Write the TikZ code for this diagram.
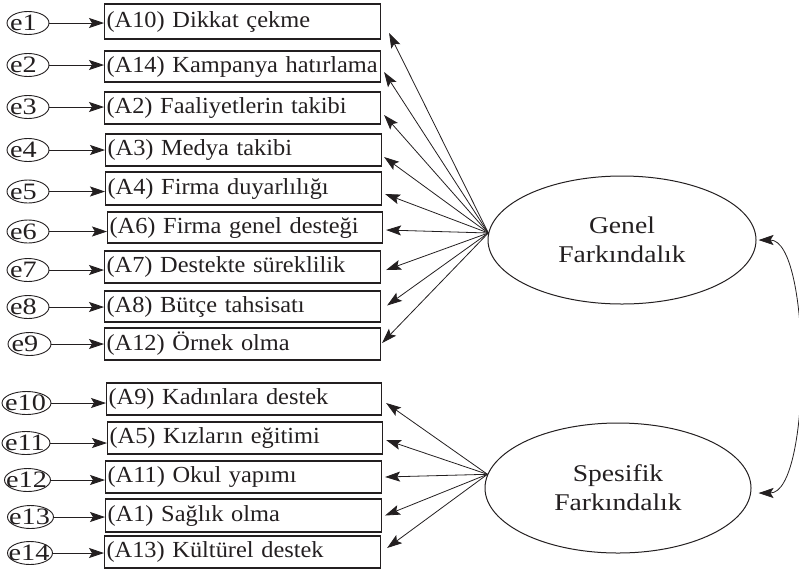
\documentclass[tikz,border=0pt]{standalone}
\usepackage{fontspec}
\setmainfont{Liberation Serif}
\newfontfamily\itemfont[FakeStretch=1.06]{Liberation Serif}
\newfontfamily\errfont[FakeStretch=1.2]{Liberation Serif}
\newfontfamily\latentfont[FakeStretch=1.15]{Liberation Serif}
\usetikzlibrary{shapes.geometric,arrows.meta,calc}
\definecolor{ink}{HTML}{231F20}
% text set off-centre inside a zero-width box (#1 = twice the offset)
\newcommand\offsettext[2]{\makebox[0pt]{\kern#1\relax#2}}
\begin{document}
\begin{tikzpicture}[x=1pt,y=-1pt,
  item/.style={draw=ink, line width=1.1pt, anchor=west, inner xsep=2pt, inner ysep=0pt,
    align=left, text=ink, font=\itemfont\fontsize{23}{25}\selectfont},
  err/.style={draw=ink, ellipse, line width=0.9pt, inner sep=-10pt, minimum height=23pt,
    text=ink, font=\errfont\fontsize{23.5}{25}\selectfont},
  latent/.style={draw=ink, ellipse, line width=1pt, align=center, text=ink,
    font=\latentfont\fontsize{24}{29}\selectfont},
  tip/.style={-{Stealth[length=15pt,width=10pt,inset=3pt]}, line width=0.8pt, draw=ink},
  both/.style={{Stealth[length=15pt,width=10pt,inset=3pt]}-{Stealth[length=15pt,width=10pt,inset=3pt]}, line width=0.8pt, draw=ink}
]
\useasboundingbox (0,0) rectangle (799,571);

% indicator boxes
\node[item, text width=272, minimum height=35] (a10) at (104,21.5) {(A10) Dikkat çekme};
\node[item, text width=272, minimum height=31] (a14) at (104,66.5) {(A14) Kampanya hatırlama};
\node[item, text width=272, minimum height=32] (a2)  at (104,108)  {(A2) Faaliyetlerin takibi};
\node[item, text width=272, minimum height=32] (a3)  at (105,150)  {(A3) Medya takibi};
\node[item, text width=272, minimum height=33] (a4)  at (105,188.5){(A4) Firma duyarlılığı};
\node[item, text width=271, minimum height=31] (a6)  at (107,227.5){(A6) Firma genel desteği};
\node[item, text width=272, minimum height=32] (a7)  at (104,267)  {(A7) Destekte süreklilik};
\node[item, text width=272, minimum height=31] (a8)  at (104,306.5){(A8) Bütçe tahsisatı};
\node[item, text width=272, minimum height=32] (a12) at (104,344)  {(A12) Örnek olma};
\node[item, text width=271, minimum height=32] (a9)  at (106,399)  {(A9) Kadınlara destek};
\node[item, text width=271, minimum height=32] (a5)  at (107,438)  {(A5) Kızların eğitimi};
\node[item, text width=272, minimum height=32] (a11) at (105,477)  {(A11) Okul yapımı};
\node[item, text width=272, minimum height=33] (a1)  at (105,515.5){(A1) Sağlık olma};
\node[item, text width=272, minimum height=32] (a13) at (104,552)  {(A13) Kültürel destek};

% error terms
\node[err, minimum width=42] (e1)  at (28,23)    {\offsettext{-9pt}{e1}};
\node[err, minimum width=42] (e2)  at (28,65)    {\offsettext{-9pt}{e2}};
\node[err, minimum width=42] (e3)  at (28,107)   {\offsettext{-9pt}{e3}};
\node[err, minimum width=42] (e4)  at (28,150)   {\offsettext{-9pt}{e4}};
\node[err, minimum width=42] (e5)  at (28,191.5) {\offsettext{-9pt}{e5}};
\node[err, minimum width=42] (e6)  at (28,231.5) {\offsettext{-9pt}{e6}};
\node[err, minimum width=42] (e7)  at (28,270)   {\offsettext{-9pt}{e7}};
\node[err, minimum width=42] (e8)  at (28,307)   {\offsettext{-9pt}{e8}};
\node[err, minimum width=43] (e9)  at (29.5,344) {\offsettext{-9pt}{e9}};
\node[err, minimum width=49] (e10) at (26.5,403) {\offsettext{-2pt}{e10}};
\node[err, minimum width=48] (e11) at (26,443)   {\offsettext{-2pt}{e11}};
\node[err, minimum width=46] (e12) at (27.5,480) {\offsettext{-2pt}{e12}};
\node[err, minimum width=46] (e13) at (30.5,517) {\offsettext{-2pt}{e13}};
\node[err, minimum width=45] (e14) at (30,553)   {\offsettext{-2pt}{e14}};

\foreach \e/\a in {e1/a10,e2/a14,e3/a2,e4/a3,e5/a4,e6/a6,e7/a7,e8/a8,e9/a12,
                   e10/a9,e11/a5,e12/a11,e13/a1,e14/a13}
  \draw[tip] (\e.east) -- (\e.east -| \a.west);

% latent factors
\node[latent, minimum width=268, minimum height=128] (G) at (622,240) {Genel\\Farkındalık};
\node[latent, minimum width=266, minimum height=130] (S) at (618,488) {Spesifik\\Farkındalık};

\coordinate (gapex) at (G.177);
\coordinate (sapex) at (S.174);

\foreach \a/\dx/\dy in {a10/8/11.5, a14/3/5.5, a2/3/7, a3/2/7, a4/3/5.5,
                        a6/3/2.5, a7/5/3, a8/6/-1, a12/1/-1}
  \draw[tip] (gapex) -- ($(\a.east)+(\dx,\dy)$);

\foreach \a/\dx/\dy in {a9/4/4, a5/3/2, a11/3/0, a1/3/0, a13/6/-4}
  \draw[tip] (sapex) -- ($(\a.east)+(\dx,\dy)$);

% covariance between the two factors
\draw[both] ($(G.east)+(2,0)$) .. controls (812,240) and (812,493) .. ($(S.east)+(7,5)$);
\end{tikzpicture}
\end{document}
